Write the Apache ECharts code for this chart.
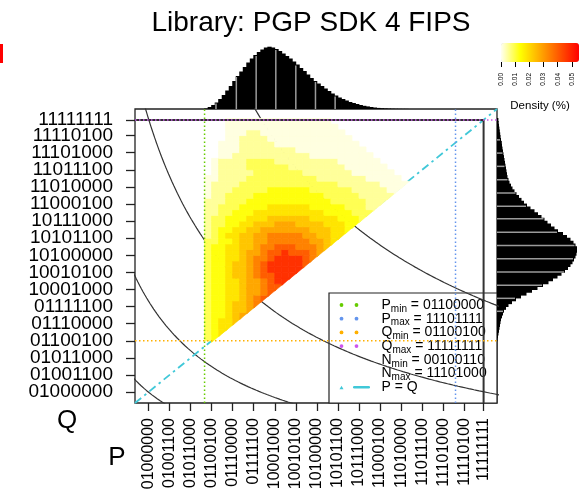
<!DOCTYPE html>
<html>
<head>
<meta charset="utf-8">
<script src="https://cdn.jsdelivr.net/npm/echarts@6.0.0/dist/echarts.min.js"></script>
<style>
  html, body { margin: 0; padding: 0; background: #fff; }
  #chart { width: 579px; height: 493px; }
</style>
</head>
<body>
<div id="chart"></div>
<script>
// ---- axis values (top bytes of P and Q, shown in binary) ----
const byteTicks = [64, 76, 88, 100, 112, 124, 136, 148, 160, 172, 184, 196, 208, 220, 232, 244, 255];
const axisMin = 56.36;
const axisMax = 262.64;

// ---- observed bounds ----
const pMin = 96, pMax = 239, qMin = 100, qMax = 255, nMin = 38, nMax = 232;
// iso-lines P*Q = N
const nCurves = [4096, 8192, 16384, 32768];

// ---- marginal histograms (bin width 2) ----
const histBin = 2;
const pHistStart = 96;
const pHist = [0.5, 2, 4, 6.5, 10, 14, 18.5, 23, 28, 33, 37.5, 42, 46.5, 50.5, 54, 57, 59.5, 61.5, 62.3, 61.5,
  60, 58, 55.5, 53, 50.5, 47.5, 44.5, 41, 38, 34.5, 31, 28, 25.5, 23, 20.5, 18, 15.5, 13.5, 11.5, 10,
  8.5, 7, 6, 5, 4, 3.2, 2.6, 2, 1.5, 1.1, 0.8, 0.6, 0.4, 0.3, 0.2, 0.15, 0.1, 0.1];
const qHistStart = 100;
const qHist = [0.5, 1, 1.5, 2, 2.5, 3, 3.5, 4, 5, 6, 7, 9, 11.5, 15, 19, 24, 29.5, 35, 40.5, 46,
  51.5, 56, 60.5, 64.5, 68, 71, 73.5, 75.5, 77, 78.5, 79.5, 80, 80, 78.5, 76.5, 73.5, 70, 66, 61, 57.5,
  54, 50.5, 47.5, 44.5, 41, 37.5, 33.5, 30, 27, 24.5, 22, 19.5, 17.5, 15.5, 14, 12.5, 11.5, 10.5, 10, 9.5,
  9, 8.5, 8, 7.5, 7, 6.5, 6, 5.5, 5, 4.8, 4, 3.6, 3.2, 2.8, 2.4, 2, 1.7, 1.4];
// light separator strokes inside the histograms
const pHistLines = [102.5, 114.1, 125.4, 136.6, 148.0, 159.2, 170.4];
const qHistLines = [120.7, 129.8, 139.0, 148.3, 157.6, 166.9, 176.2, 185.6, 194.4, 203.7, 213.0, 222.4, 231.7, 241.0];

// ---- joint density (%), cells of 4x4; one string per Q row, bottom row first ----
const densityP0 = 96, densityQ0 = 100, densityCell = 4;
const densityLevels = [0.001, 0.005, 0.009, 0.013, 0.018, 0.023, 0.028, 0.034, 0.040, 0.047];
const densityRows = [
  "23",
  "234",
  "2344",
  "23445",
  "233456",
  "2334556",
  "23345567",
  "233445678",
  "2334456678",
  "23344566788",
  "233445667899",
  "2334556788999",
  "23345567899999",
  "233455678999998",
  "2334456778999987",
  "23344566788988876",
  "233445567788877765",
  "2233455667777776654",
  "12344556677777665544",
  "123344556666666555443",
  "1223344555666555544433",
  "12233344455555544443332",
  "112233344444444443333222",
  "1122233334444443333322211",
  "11122233333333333322222111",
  "011222233333333332222211111",
  "0111222223333332222221111100",
  "01111222222222222221111110000",
  "0011112222222222111111100000",
  ".01111122222221111111000000",
  ".0111122222211111111000000",
  ".011112222111111111000000",
  "..0011111111111000000000",
  "..000111111110000000000",
  "..00011111000000000000",
  "...001111000000000000",
  "...00011000000000000",
  "...0000000000000000",
  "...000000000000000"
];
const densityTicks = [0, 0.01, 0.02, 0.03, 0.04, 0.05];
const densityMax = 0.055;

// ---- helpers ----
const FONT = 'Liberation Sans, Arial, Helvetica, sans-serif';
const bin8 = v => Math.round(v).toString(2).padStart(8, '0');
// Q labels are split over two stacked axes so that none of them is dropped as overlapping
const qLabelsA = byteTicks.filter((v, i) => i % 2 === 0);
const qLabelsB = byteTicks.filter((v, i) => i % 2 === 1);

const densityData = [];
densityRows.forEach((row, r) => {
  const q = densityQ0 + r * densityCell;
  for (let c = 0; c < row.length; c++) {
    if (row[c] === '.') continue;
    densityData.push([densityP0 + c * densityCell, q, densityLevels[+row[c]]]);
  }
});

const pHistData = pHist.map((h, i) => [pHistStart + i * histBin, h]);
const qHistData = qHist.map((w, i) => [w, qHistStart + i * histBin]);
const pAt = p => pHist[Math.floor((p - pHistStart) / histBin)] || 0;
const qAt = q => qHist[Math.floor((q - qHistStart) / histBin)] || 0;

function isoLine(n) {
  const pts = [];
  for (let p = 50; p <= 270; p += 0.5) {
    const q = n / p;
    if (q >= 40 && q <= 290) pts.push([p, q]);
  }
  return pts;
}

function line(data, style, z) {
  return {
    type: 'line', xAxisIndex: 0, yAxisIndex: 0, data, symbol: 'none', showSymbol: false,
    silent: true, clip: true, z, lineStyle: style, animation: false
  };
}

const series = [];
// joint density field (cells on the diagonal keep only their Q >= P half)
series.push({
  type: 'custom', xAxisIndex: 0, yAxisIndex: 0, data: densityData, z: 3, clip: true,
  encode: { x: 0, y: 1 }, animation: false, silent: true,
  renderItem(params, api) {
    const p = api.value(0), q = api.value(1);
    const a = api.coord([p, q]);
    const b = api.coord([p + densityCell, q + densityCell]);
    const fill = api.visual('color');
    if (p === q) {
      return { type: 'polygon', shape: { points: [[a[0], a[1] + 1.6], [a[0], b[1]], [b[0] + 1.6, b[1]]] },
        style: { fill, stroke: fill, lineWidth: 0.6 } };
    }
    return { type: 'rect', shape: { x: a[0], y: b[1], width: b[0] - a[0], height: a[1] - b[1] },
      style: { fill, stroke: fill, lineWidth: 0.8 } };
  }
});
// P*Q iso-lines
nCurves.forEach(n => series.push(line(isoLine(n), { color: '#333', width: 1.2 }, 2)));
// P = Q
series.push(line([[axisMin, axisMin], [axisMax, axisMax]], { color: '#40C8D8', width: 1.8, type: [8, 4, 2.5, 4] }, 2));
// value-range frame at 255
series.push(line([[axisMin, qMax], [255, qMax], [255, axisMin]], { color: '#333', width: 2 }, 4));
// min / max guides
series.push(line([[pMin, axisMin], [pMin, axisMax]], { color: '#66CC00', width: 1.5, type: [1.5, 2.5] }, 5));
series.push(line([[pMax, axisMin], [pMax, axisMax]], { color: '#6495ED', width: 1.5, type: [1.5, 2.5] }, 5));
series.push(line([[axisMin, qMin], [axisMax, qMin]], { color: '#FFB000', width: 1.5, type: [1.5, 2.5] }, 5));
series.push(line([[axisMin, qMax], [axisMax, qMax]], { color: '#CC55EE', width: 1.5, type: [1.5, 2.5] }, 5));

// top histogram of P
series.push({
  type: 'custom', xAxisIndex: 1, yAxisIndex: 1, data: pHistData, encode: { x: 0, y: 1 },
  animation: false, silent: true,
  renderItem(params, api) {
    const a = api.coord([api.value(0), 0]);
    const b = api.coord([api.value(0) + histBin, api.value(1)]);
    return { type: 'rect', shape: { x: a[0] - 0.4, y: b[1], width: b[0] - a[0] + 0.8, height: a[1] - b[1] },
      style: { fill: '#000' } };
  }
});
series.push({
  type: 'custom', xAxisIndex: 1, yAxisIndex: 1, z: 3, data: pHistLines.map(p => [p, pAt(p)]),
  encode: { x: 0, y: 1 }, animation: false, silent: true,
  renderItem(params, api) {
    const a = api.coord([api.value(0), 0]);
    const b = api.coord([api.value(0), api.value(1)]);
    return { type: 'line', shape: { x1: a[0], y1: a[1], x2: b[0], y2: b[1] + 1 },
      style: { stroke: '#9a9a9a', lineWidth: 1.5 } };
  }
});
// right histogram of Q
series.push({
  type: 'custom', xAxisIndex: 2, yAxisIndex: 2, data: qHistData, encode: { x: 0, y: 1 },
  animation: false, silent: true,
  renderItem(params, api) {
    const a = api.coord([0, api.value(1)]);
    const b = api.coord([api.value(0), api.value(1) + histBin]);
    return { type: 'rect', shape: { x: a[0], y: b[1] - 0.4, width: b[0] - a[0], height: a[1] - b[1] + 0.8 },
      style: { fill: '#000' } };
  }
});
series.push({
  type: 'custom', xAxisIndex: 2, yAxisIndex: 2, z: 3, data: qHistLines.map(q => [qAt(q), q]),
  encode: { x: 0, y: 1 }, animation: false, silent: true,
  renderItem(params, api) {
    const a = api.coord([0, api.value(1)]);
    const b = api.coord([api.value(0), api.value(1)]);
    return { type: 'line', shape: { x1: a[0], y1: a[1], x2: b[0] - 1, y2: b[1] },
      style: { stroke: '#9a9a9a', lineWidth: 1.5 } };
  }
});

// ---- legend (drawn as graphic) ----
const legendRows = [
  ['P', 'min', pMin, '#66CC00'],
  ['P', 'max', pMax, '#6495ED'],
  ['Q', 'min', qMin, '#FFB000'],
  ['Q', 'max', qMax, '#CC55EE'],
  ['N', 'min', nMin, null],
  ['N', 'max', nMax, null]
];
const richStyle = {
  m: { fontSize: 14, lineHeight: 18, fontFamily: FONT, fill: '#000', color: '#000' },
  s: { fontSize: 10, lineHeight: 8, verticalAlign: 'bottom', fontFamily: FONT, fill: '#000', color: '#000' }
};
const legendEls = [{
  type: 'rect', shape: { x: 329, y: 293, width: 168, height: 110 },
  style: { fill: '#fff', stroke: '#222', lineWidth: 1.2 }
}];
legendRows.forEach(([sym, sub, val, col], i) => {
  const y = 305 + i * 13.7;
  if (col) {
    [341.5, 356.5].forEach(x => legendEls.push({ type: 'circle', shape: { cx: x, cy: y, r: 1.9 }, style: { fill: col } }));
  }
  legendEls.push({
    type: 'text', x: 381.5, y,
    style: { text: `{m|${sym}}{s|${sub}}{m| = ${bin8(val)}}`, rich: richStyle, align: 'left', verticalAlign: 'middle' }
  });
});
{
  const y = 305 + 6 * 13.7;
  legendEls.push({ type: 'polygon', shape: { points: [[339.5, y + 2], [343.5, y + 2], [341.5, y - 1.5]] }, style: { fill: '#40C8D8' } });
  legendEls.push({ type: 'rect', shape: { x: 353, y: y - 1.3, width: 17, height: 2.6, r: 1.2 }, style: { fill: '#40C8D8' } });
  legendEls.push({
    type: 'text', x: 381.5, y,
    style: { text: '{m|P = Q}', rich: richStyle, align: 'left', verticalAlign: 'middle' }
  });
}

const qAxisLabel = values => ({
  customValues: values, formatter: bin8, margin: 22, fontSize: 19,
  fontFamily: FONT, color: '#000', showMinLabel: true, showMaxLabel: true, hideOverlap: false
});

const option = {
  animation: false,
  backgroundColor: '#fff',
  title: {
    text: 'Library: PGP SDK 4 FIPS',
    left: 306, top: 4, textAlign: 'center',
    textStyle: { fontFamily: FONT, fontSize: 28, fontWeight: 'normal', color: '#000' }
  },
  grid: [
    { left: 135, top: 109, width: 362, height: 294, show: true, borderColor: '#222', borderWidth: 1.3, backgroundColor: 'transparent' },
    { left: 135, top: 40, width: 362, height: 69 },
    { left: 497, top: 109, width: 82, height: 294 },
    { left: 501, top: 43, width: 78, height: 19 }
  ],
  xAxis: [
    {
      gridIndex: 0, type: 'value', min: axisMin, max: axisMax,
      axisLine: { show: false }, splitLine: { show: false },
      axisTick: { show: true, length: 8, customValues: byteTicks, lineStyle: { color: '#222', width: 1.3 } },
      axisLabel: { customValues: byteTicks, formatter: bin8, rotate: 90, margin: 15, fontSize: 16,
        fontFamily: FONT, color: '#000', showMinLabel: true, showMaxLabel: true, hideOverlap: false }
    },
    { gridIndex: 1, type: 'value', min: axisMin, max: axisMax, show: false },
    { gridIndex: 2, type: 'value', min: 0, max: 82, show: false },
    {
      gridIndex: 3, type: 'value', min: 0, max: densityMax,
      axisLine: { show: false }, splitLine: { show: false },
      axisTick: { show: true, length: 5, customValues: densityTicks, lineStyle: { color: '#000', width: 1 } },
      axisLabel: { customValues: densityTicks, formatter: v => v.toFixed(2), rotate: 90, margin: 11, fontSize: 6.5,
        fontFamily: FONT, color: '#000', showMinLabel: true, showMaxLabel: true },
      name: 'Density (%)', nameLocation: 'middle', nameGap: 38,
      nameTextStyle: { fontSize: 11.5, fontFamily: FONT, color: '#000' }
    }
  ],
  yAxis: [
    {
      gridIndex: 0, type: 'value', min: axisMin, max: axisMax,
      axisLine: { show: false }, splitLine: { show: false },
      axisTick: { show: true, length: 9, customValues: byteTicks, lineStyle: { color: '#222', width: 1.3 } },
      axisLabel: qAxisLabel(qLabelsA)
    },
    { gridIndex: 1, type: 'value', min: 0, max: 69, show: false },
    { gridIndex: 2, type: 'value', min: axisMin, max: axisMax, show: false },
    { gridIndex: 3, type: 'value', min: 0, max: 1, show: false },
    {
      gridIndex: 0, type: 'value', min: axisMin, max: axisMax, position: 'left', offset: 0,
      axisLine: { show: false }, splitLine: { show: false }, axisTick: { show: false },
      axisLabel: qAxisLabel(qLabelsB)
    }
  ],
  visualMap: {
    type: 'continuous', seriesIndex: 0, dimension: 2, min: 0, max: densityMax,
    orient: 'horizontal', left: 501, top: 43, itemWidth: 19, itemHeight: 78,
    padding: 0, calculable: false, text: null, showLabel: false,
    inRange: { color: ['#FFFFF2', '#FFFF00', '#FFAA00', '#FF5500', '#FF0000'] }
  },
  series,
  graphic: [
    { type: 'rect', shape: { x: 0, y: 44, width: 3, height: 19 }, style: { fill: '#FF0000' } },
    { type: 'text', x: 67, y: 421, style: { text: 'Q', font: `26px ${FONT}`, fill: '#000', align: 'center', verticalAlign: 'middle' } },
    { type: 'text', x: 117, y: 458, style: { text: 'P', font: `26px ${FONT}`, fill: '#000', align: 'center', verticalAlign: 'middle' } },
    { type: 'group', z: 100, children: legendEls }
  ]
};

const chart = echarts.init(document.getElementById('chart'), null, { renderer: 'canvas' });
chart.setOption(option);
</script>
</body>
</html>
